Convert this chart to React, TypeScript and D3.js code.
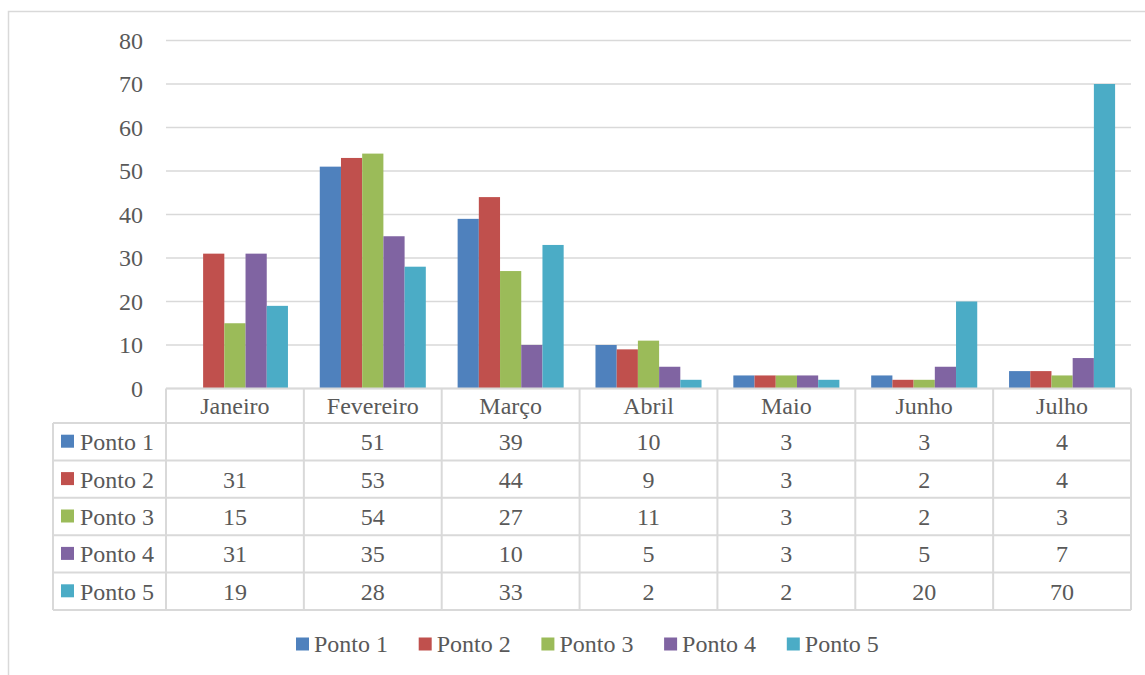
import React from "react";
import * as d3 from "d3";

const categories = ["Janeiro", "Fevereiro", "Março", "Abril", "Maio", "Junho", "Julho"];
const seriesNames = ["Ponto 1", "Ponto 2", "Ponto 3", "Ponto 4", "Ponto 5"];
const ponto1: (number | null)[] = [null, 51, 39, 10, 3, 3, 4];
const ponto2: (number | null)[] = [31, 53, 44, 9, 3, 2, 4];
const ponto3: (number | null)[] = [15, 54, 27, 11, 3, 2, 3];
const ponto4: (number | null)[] = [31, 35, 10, 5, 3, 5, 7];
const ponto5: (number | null)[] = [19, 28, 33, 2, 2, 20, 70];
const yTicks = [0, 10, 20, 30, 40, 50, 60, 70, 80];
const colors = ["#4F81BD", "#C0504D", "#9BBB59", "#8064A2", "#4BACC6"];

const series = [ponto1, ponto2, ponto3, ponto4, ponto5];

const W = 1145;
const H = 675;
const plotLeft = 166;
const plotRight = 1131;
const plotTop = 40.5;
const plotBottom = 388.5;
const tableLeft = 53;
const headerBottom = 423;
const rowH = 37.4;
const FONT = "'Liberation Serif', 'DejaVu Serif', serif";
const TEXT = "#595959";
const GRID = "#D9D9D9";

export default function App() {
  const x = d3.scaleBand<string>().domain(categories).range([plotLeft, plotRight]);
  const inner = d3
    .scaleBand<string>()
    .domain(seriesNames)
    .range([0, x.bandwidth()])
    .paddingInner(0)
    .paddingOuter(0.75);
  const y = d3.scaleLinear().domain([0, 80]).range([plotBottom, plotTop]);
  const tableBottom = headerBottom + rowH * seriesNames.length;
  const legendY = 644;
  const legendStart = 296;
  const legendStep = 122.7;

  return (
    <svg
      width={W}
      height={H}
      style={{ position: "absolute", left: 0, top: 0, background: "#fff" }}
      fontFamily={FONT}
    >
      <rect x={0} y={0} width={W} height={H} fill="#fff" />
      {/* outer frame */}
      <path d={`M8.5,${H + 5}V11.5H${W + 5}`} fill="none" stroke={GRID} strokeWidth={1.5} />
      {/* gridlines */}
      {yTicks.map((t) => (
        <line
          key={t}
          x1={plotLeft}
          x2={plotRight}
          y1={y(t)}
          y2={y(t)}
          stroke={GRID}
          strokeWidth={1.5}
        />
      ))}
      {yTicks.map((t) => (
        <text
          key={"l" + t}
          x={143}
          y={y(t)}
          dy="0.35em"
          textAnchor="end"
          fontSize={24}
          fill={TEXT}
        >
          {t}
        </text>
      ))}
      {/* bars */}
      {series.map((vals, si) =>
        vals.map((v, ci) =>
          v == null ? null : (
            <rect
              key={`b${si}-${ci}`}
              x={x(categories[ci])! + inner(seriesNames[si])!}
              y={y(v)}
              width={inner.bandwidth()}
              height={y(0) - y(v)}
              fill={colors[si]}
            />
          )
        )
      )}
      {/* table lines */}
      <g stroke={GRID} strokeWidth={2} fill="none">
        <line x1={plotLeft} x2={plotRight} y1={plotBottom} y2={plotBottom} />
        {seriesNames.map((_, i) => (
          <line
            key={"h" + i}
            x1={tableLeft}
            x2={plotRight}
            y1={headerBottom + rowH * i}
            y2={headerBottom + rowH * i}
          />
        ))}
        <line x1={tableLeft} x2={plotRight} y1={tableBottom} y2={tableBottom} />
        <line x1={tableLeft} x2={tableLeft} y1={headerBottom} y2={tableBottom} />
        {categories.map((c) => (
          <line key={"v" + c} x1={x(c)} x2={x(c)} y1={plotBottom} y2={tableBottom} />
        ))}
        <line x1={plotRight} x2={plotRight} y1={plotBottom} y2={tableBottom} />
      </g>
      {/* category headers */}
      {categories.map((c) => (
        <text
          key={"c" + c}
          x={x(c)! + x.bandwidth() / 2}
          y={(plotBottom + headerBottom) / 2}
          dy="0.35em"
          textAnchor="middle"
          fontSize={24}
          fill={TEXT}
        >
          {c}
        </text>
      ))}
      {/* rows */}
      {seriesNames.map((s, si) => {
        const cy = headerBottom + rowH * si + rowH / 2;
        return (
          <g key={"r" + s}>
            <rect x={61} y={cy - 7} width={13} height={13} fill={colors[si]} />
            <text x={80} y={cy} dy="0.35em" fontSize={24} fill={TEXT}>
              {s}
            </text>
            {series[si].map((v, ci) =>
              v == null ? null : (
                <text
                  key={"t" + ci}
                  x={x(categories[ci])! + x.bandwidth() / 2}
                  y={cy}
                  dy="0.35em"
                  textAnchor="middle"
                  fontSize={24}
                  fill={TEXT}
                >
                  {v}
                </text>
              )
            )}
          </g>
        );
      })}
      {/* legend */}
      {seriesNames.map((s, si) => (
        <g key={"lg" + s} transform={`translate(${legendStart + legendStep * si},${legendY})`}>
          <rect x={0} y={-6.5} width={13} height={13} fill={colors[si]} />
          <text x={18} y={0} dy="0.35em" fontSize={24} fill={TEXT}>
            {s}
          </text>
        </g>
      ))}
    </svg>
  );
}
